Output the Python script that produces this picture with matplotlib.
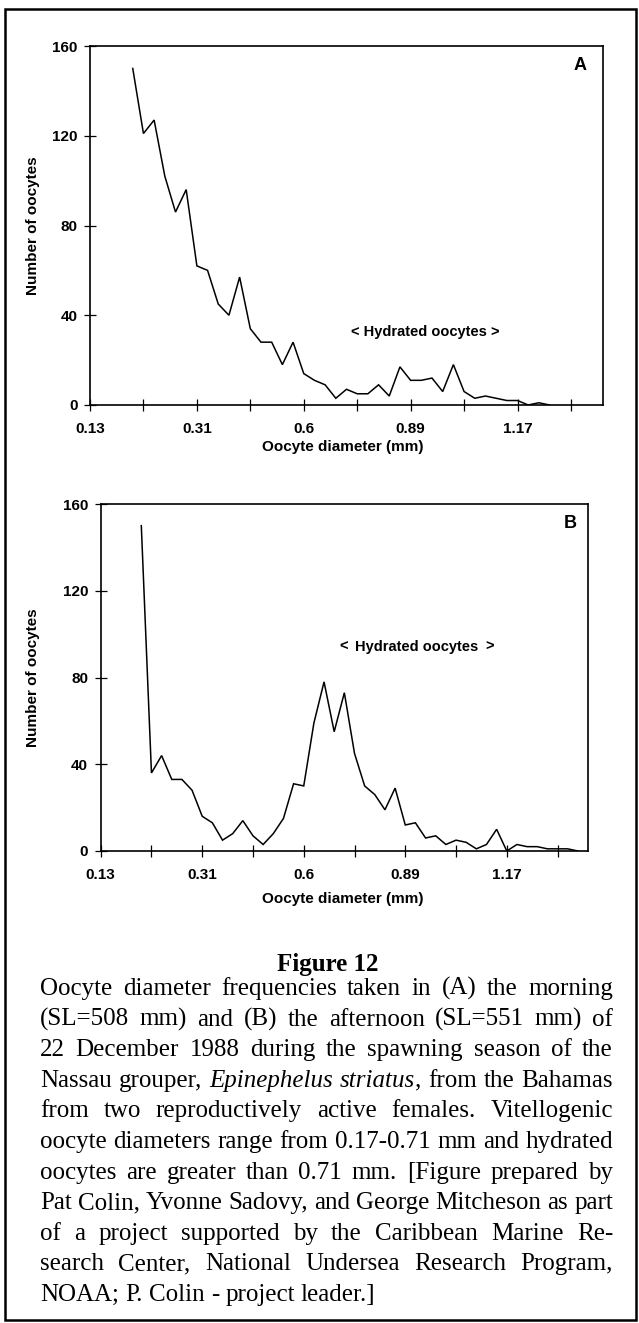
import matplotlib
matplotlib.use("Agg")
import matplotlib.pyplot as plt
from matplotlib.patches import Rectangle

# figure size in pixels
W, H = 639, 1323
DPI = 100

# category axis: 48 size classes, labelled every 10th
n_cat = 48
tick_labels = ["0.13", "0.31", "0.6", "0.89", "1.17"]
label_cats = [0, 10, 20, 30, 40]

# (A) morning, counts start at size class 4
start_a = 4
counts_a = [150, 121, 127, 102, 86, 96, 62, 60, 45, 40,
            57, 34, 28, 28, 18, 28, 14, 11, 9, 3,
            7, 5, 5, 9, 4, 17, 11, 11, 12, 6,
            18, 6, 3, 4, 3, 2, 2, 0, 1, 0]

# (B) afternoon
start_b = 4
counts_b = [150, 36, 44, 33, 33, 28, 16, 13, 5, 8,
            14, 7, 3, 8, 15, 31, 30, 59, 78, 55,
            73, 45, 30, 26, 19, 29, 12, 13, 6, 7,
            3, 5, 4, 1, 3, 10, 0, 3, 2, 2,
            1, 1, 1, 0]

caption_title = "Figure 12"
caption_lines = [
    "Oocyte diameter frequencies taken in (A) the morning",
    "(SL=508 mm) and (B) the afternoon (SL=551 mm) of",
    "22 December 1988 during the spawning season of the",
    "Nassau grouper, *Epinephelus* *striatus*, from the Bahamas",
    "from two reproductively active females. Vitellogenic",
    "oocyte diameters range from 0.17-0.71 mm and hydrated",
    "oocytes are greater than 0.71 mm. [Figure prepared by",
    "Pat Colin, Yvonne Sadovy, and George Mitcheson as part",
    "of a project supported by the Caribbean Marine Re-",
    "search Center, National Undersea Research Program,",
    "NOAA; P. Colin - project leader.]",
]

plt.rcParams["font.family"] = "Liberation Sans"
plt.rcParams["font.weight"] = "bold"

fig = plt.figure(figsize=(W / DPI, H / DPI), dpi=DPI)


def fx(x):
    return x / W


def fy(y):
    return 1 - y / H


def panel(left, top, right, bottom, counts, start, letter, letter_xy):
    ax = fig.add_axes([fx(left), fy(bottom), (right - left) / W, (bottom - top) / H])
    xs = list(range(start, start + len(counts)))
    ax.plot(xs, counts, color="black", lw=1.1, solid_joinstyle="miter")
    ax.set_xlim(0, n_cat)
    ax.set_ylim(0, 160)
    ticks = list(range(0, n_cat, 5))
    ax.set_xticks(ticks)
    ax.set_xticklabels([tick_labels[label_cats.index(t)] if t in label_cats else "" for t in ticks])
    ax.set_yticks(range(0, 161, 40))
    ax.tick_params(axis="x", direction="inout", length=8, width=0.9, pad=8, labelsize=11)
    ax.tick_params(axis="y", direction="inout", length=8, width=0.9, pad=5, labelsize=11)
    for s in ax.spines.values():
        s.set_linewidth(1.2)
    ax.text(letter_xy[0] / W, fy(letter_xy[1]), letter, transform=fig.transFigure,
            ha="center", va="center", fontsize=13)
    return ax


panel(90, 46, 603, 405, counts_a, start_a, "A", (580, 66))
fig.text(fx(425), fy(332), "< Hydrated oocytes >", ha="center", va="center", fontsize=10.5)
fig.text(fx(33), fy(226), "Number of oocytes", rotation=90, ha="center", va="center", fontsize=11)
fig.text(fx(343), fy(447), "Oocyte diameter (mm)", ha="center", va="center", fontsize=11)

panel(100.7, 504, 588, 851, counts_b, start_b, "B", (570, 523))
fig.text(fx(343.5), fy(647), "<", ha="center", va="center", fontsize=10.5)
fig.text(fx(417), fy(647), "Hydrated oocytes", ha="center", va="center", fontsize=10.5)
fig.text(fx(490), fy(647), ">", ha="center", va="center", fontsize=10.5)
fig.text(fx(33), fy(678), "Number of oocytes", rotation=90, ha="center", va="center", fontsize=11)
fig.text(fx(343), fy(899), "Oocyte diameter (mm)", ha="center", va="center", fontsize=11)

# caption, justified by hand
serif = "Liberation Serif"
x0, x1 = 40, 613
base0, step = 995, 30.6
renderer = fig.canvas.get_renderer()


def runs_of(word):
    parts = word.split("*")
    return [(p, i % 2 == 1) for i, p in enumerate(parts) if p]


def run_width(s, italic, size):
    t = fig.text(0, 0, s, family=serif, fontsize=size, weight="normal",
                 style="italic" if italic else "normal")
    w = t.get_window_extent(renderer).width
    t.remove()
    return w


# largest size (up to 18pt) at which every line still fits with some word spacing
cap_size = 18.0
while cap_size > 14:
    sp = run_width("a a", False, cap_size) - run_width("aa", False, cap_size)
    ok = True
    for line in caption_lines[:-1]:
        words = [runs_of(w) for w in line.split(" ")]
        total = sum(run_width(s, it, cap_size) for w in words for s, it in w)
        if (x1 - x0 - total) / (len(words) - 1) < 0.75 * sp:
            ok = False
            break
    if ok:
        break
    cap_size -= 0.25

fig.text(fx(328), fy(971), caption_title, ha="center", va="baseline",
         family=serif, fontsize=cap_size, weight="bold")

space_w = run_width("a a", False, cap_size) - run_width("aa", False, cap_size)
for i, line in enumerate(caption_lines):
    words = [runs_of(w) for w in line.split(" ")]
    widths = [[run_width(s, it, cap_size) for s, it in w] for w in words]
    total = sum(sum(ws) for ws in widths)
    last = i == len(caption_lines) - 1
    gap = space_w if last else (x1 - x0 - total) / (len(words) - 1)
    x = x0
    yb = fy(base0 + i * step)
    for w, ws in zip(words, widths):
        for (s, it), rw in zip(w, ws):
            fig.text(fx(x), yb, s, ha="left", va="baseline", family=serif,
                     fontsize=cap_size, weight="normal",
                     style="italic" if it else "normal")
            x += rw
        x += gap

# outer frame
fig.patches.append(Rectangle((fx(5), fy(1320)), (636 - 5) / W, (1320 - 9) / H,
                             transform=fig.transFigure, fill=False,
                             edgecolor="black", lw=1.8))

fig.savefig("out.png", dpi=DPI)
